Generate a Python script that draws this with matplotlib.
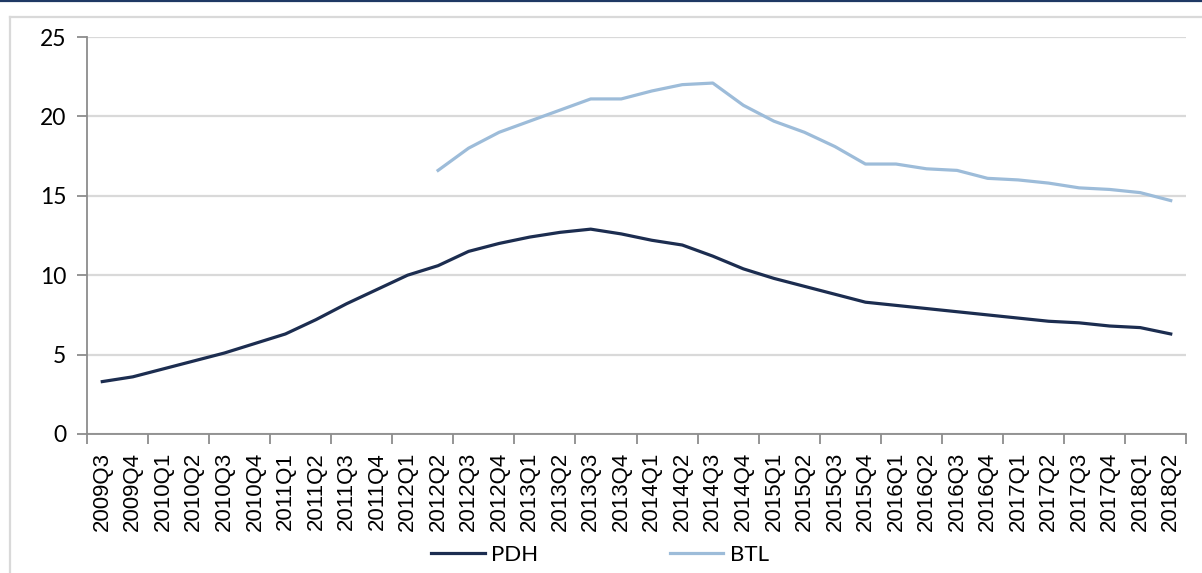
import numpy as np
import matplotlib
matplotlib.use("Agg")
import matplotlib.pyplot as plt
from matplotlib.lines import Line2D

quarters = ["2009Q3", "2009Q4",
            "2010Q1", "2010Q2", "2010Q3", "2010Q4",
            "2011Q1", "2011Q2", "2011Q3", "2011Q4",
            "2012Q1", "2012Q2", "2012Q3", "2012Q4",
            "2013Q1", "2013Q2", "2013Q3", "2013Q4",
            "2014Q1", "2014Q2", "2014Q3", "2014Q4",
            "2015Q1", "2015Q2", "2015Q3", "2015Q4",
            "2016Q1", "2016Q2", "2016Q3", "2016Q4",
            "2017Q1", "2017Q2", "2017Q3", "2017Q4",
            "2018Q1", "2018Q2"]

pdh = [3.3, 3.6, 4.1, 4.6, 5.1, 5.7, 6.3, 7.2, 8.2, 9.1, 10.0, 10.6,
       11.5, 12.0, 12.4, 12.7, 12.9, 12.6, 12.2, 11.9, 11.2, 10.4,
       9.8, 9.3, 8.8, 8.3, 8.1, 7.9, 7.7, 7.5, 7.3, 7.1, 7.0, 6.8, 6.7, 6.3]

btl = [None] * 11 + [16.6, 18.0, 19.0, 19.7, 20.4, 21.1, 21.1, 21.6, 22.0,
                     22.1, 20.7, 19.7, 19.0, 18.1, 17.0, 17.0, 16.7, 16.6,
                     16.1, 16.0, 15.8, 15.5, 15.4, 15.2, 14.7]

yticks = [0, 5, 10, 15, 20, 25]

pdh_color = "#1c2d50"
btl_color = "#9dbcd9"
grid_color = "#d9d9d9"
axis_color = "#8c8c8c"

fig = plt.figure(figsize=(12.02, 5.73), dpi=100)
ax = fig.add_axes([87 / 1202, 1 - 434 / 573, 1099 / 1202, 397 / 573])

x = np.arange(len(quarters))
btl_arr = np.array([np.nan if v is None else v for v in btl])

ax.plot(x, pdh, color=pdh_color, lw=2.3, label="PDH", solid_joinstyle="round")
ax.plot(x, btl_arr, color=btl_color, lw=2.3, label="BTL", solid_joinstyle="round")

ax.set_xlim(-0.5, len(quarters) - 0.5)
ax.set_ylim(0, 25)
ax.set_yticks(yticks)
ax.set_yticklabels([str(v) for v in yticks], fontfamily="Lato", fontsize=16.5)
ax.yaxis.grid(True, color=grid_color, lw=1.6)
ax.set_axisbelow(True)

# labels at category centres, tick marks at every second boundary
ax.set_xticks(x)
ax.set_xticklabels(quarters, rotation=90, fontfamily="Liberation Sans", fontsize=16)
ax.tick_params(axis="x", which="major", length=0, pad=13)
ax.set_xticks(np.arange(-0.5, len(quarters), 2), minor=True)
ax.tick_params(axis="x", which="minor", length=7, width=1.3, color=axis_color)
ax.tick_params(axis="y", length=7, width=1.3, color=axis_color, pad=8)

for s in ["top", "right"]:
    ax.spines[s].set_visible(False)
for s in ["left", "bottom"]:
    ax.spines[s].set_color(axis_color)
    ax.spines[s].set_linewidth(1.3)

leg = fig.legend(loc="center", bbox_to_anchor=(600 / 1202, 18 / 573), ncol=2,
                 frameon=False, handlelength=2.4, handletextpad=0.3,
                 columnspacing=5.9, prop={"family": "Lato", "size": 16})

# outer frame and top rule
fig.add_artist(Line2D([10 / 1202, 10 / 1202], [0, 1 - 17 / 573],
                      transform=fig.transFigure, color=grid_color, lw=1.6))
fig.add_artist(Line2D([10 / 1202, 1], [1 - 17 / 573, 1 - 17 / 573],
                      transform=fig.transFigure, color=grid_color, lw=1.6))
fig.add_artist(Line2D([0, 1], [1 - 0.8 / 573, 1 - 0.8 / 573],
                      transform=fig.transFigure, color="#1f3864", lw=1.6))

plt.savefig("out.png", dpi=100)
